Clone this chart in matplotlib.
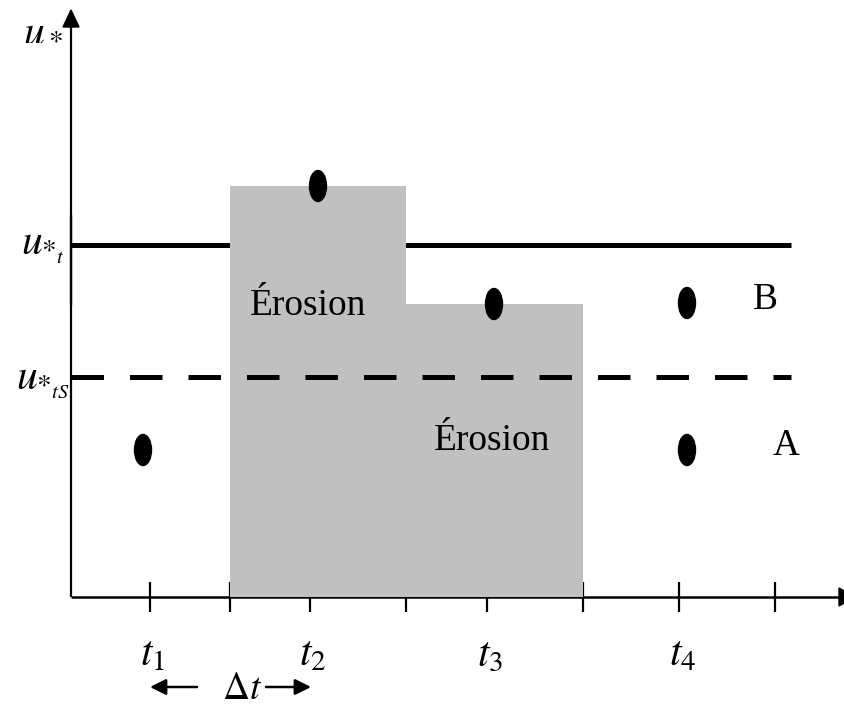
import matplotlib
matplotlib.use("Agg")
import matplotlib.pyplot as plt
from matplotlib.patches import Ellipse, Polygon

plt.rcParams['mathtext.fontset'] = 'stix'
plt.rcParams['font.family'] = ['Liberation Serif', 'DejaVu Serif']

# ---- schematic data (x: time units, y: friction velocity units; origin at axes corner)
tick_x = [79, 159, 239, 335, 416, 512, 608, 704]
t_labels = ['$t_1$', '$t_2$', '$t_3$', '$t_4$']
t_label_x = [82, 242, 419, 612]
u_t = 352          # threshold u*t (solid)
u_tS = 220         # threshold u*tS (dashed)
line_end = 720
erosion_x = [159, 335, 512]     # box edges
erosion_top = [411, 293]        # box heights
points_x = [72, 247, 423, 616, 616]
points_y = [147, 411, 293, 294, 147]
y_max = 587
x_max = 773

fig = plt.figure(figsize=(8.44, 7.10), dpi=100)
ax = fig.add_axes([0, 0, 1, 1])
ax.set_xlim(-71, 773)
ax.set_ylim(-113, 597)
ax.axis('off')

# axes lines
ax.plot([0, 0], [0, 382], color='black', lw=1.6, solid_capstyle='butt', zorder=2)
ax.plot([0, 0], [382, 292], color='black', lw=0.8, solid_capstyle='butt', zorder=2)
ax.plot([0, 0], [292, 572], color='black', lw=1.6, solid_capstyle='butt', zorder=2)
ax.add_patch(Polygon([[-8, 570], [8, 570], [0, y_max]], closed=True, color='black', zorder=3))
ax.plot([0, 768], [0, 0], color='black', lw=1.8, solid_capstyle='butt', zorder=2)
ax.add_patch(Polygon([[768, -9], [768, 9], [784, 0]], closed=True, color='black', zorder=3))

# ticks
for x in tick_x:
    ax.plot([x, x], [15, -15], color='black', lw=1.6, solid_capstyle='butt', zorder=2)

# threshold lines
ax.plot([0, line_end], [u_t, u_t], color='black', lw=3.6, solid_capstyle='butt', zorder=1)
ax.plot([0, line_end], [u_tS, u_tS], color='black', lw=3.6, dashes=(6.5, 5.2),
        solid_capstyle='butt', dash_capstyle='butt', zorder=5)

# erosion boxes
for i in range(2):
    ax.fill_between([erosion_x[i], erosion_x[i + 1]], 0, erosion_top[i],
                    color='#c0c0c0', lw=0, zorder=4)

# points
for x, y in zip(points_x, points_y):
    ax.add_patch(Ellipse((x, y), 17, 31, color='black', zorder=5))

# texts
ax.text(237, 291, 'Érosion', fontsize=27, ha='center', va='center', zorder=6)
ax.text(421, 156, 'Érosion', fontsize=27, ha='center', va='center', zorder=6)
ax.text(694, 297, 'B', fontsize=27, ha='center', va='center')
ax.text(715, 151, 'A', fontsize=27, ha='center', va='center')

ax.text(-28, 567, '$u_*$', fontsize=30, ha='center', va='center')
ax.text(-28, 350, '$u_{*_t}$', fontsize=30, ha='center', va='center')
ax.text(-28, 215, '$u_{*_{tS}}$', fontsize=30, ha='center', va='center')

for x, lab in zip(t_label_x, t_labels):
    ax.text(x, -58, lab, fontsize=30, ha='center', va='center')

ax.text(171, -93, r'$\Delta t$', fontsize=27, ha='center', va='center')
ax.annotate('', xy=(79, -90), xytext=(126, -90),
            arrowprops=dict(arrowstyle='-|>', color='black', lw=1.8, mutation_scale=24,
                            shrinkA=0, shrinkB=0))
ax.annotate('', xy=(240, -90), xytext=(195, -90),
            arrowprops=dict(arrowstyle='-|>', color='black', lw=1.8, mutation_scale=24,
                            shrinkA=0, shrinkB=0))

fig.savefig('out.png', dpi=100)
